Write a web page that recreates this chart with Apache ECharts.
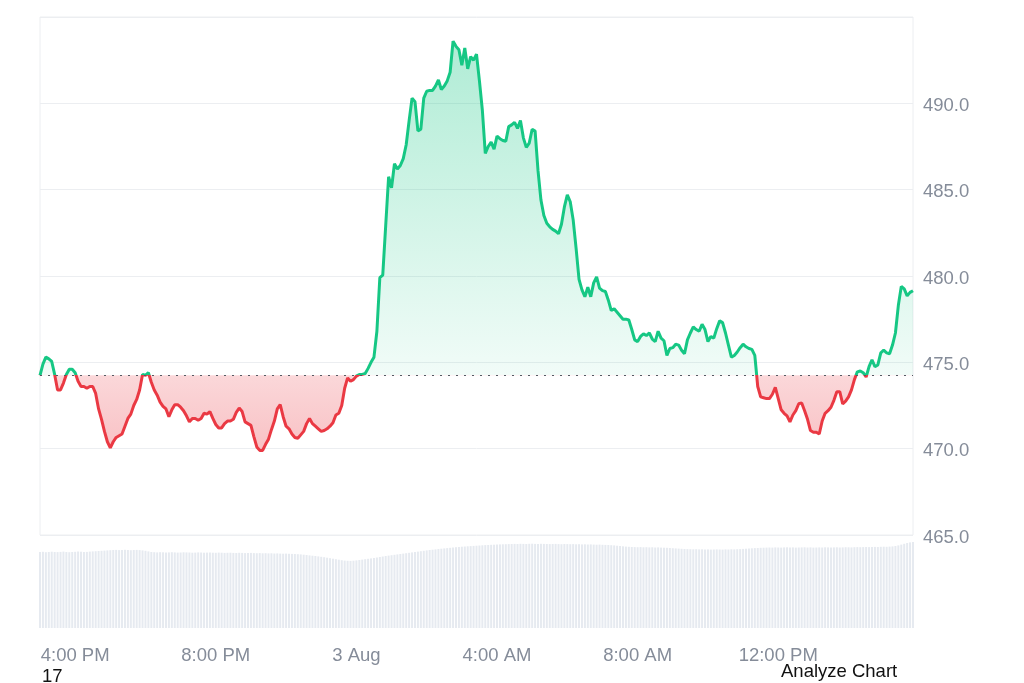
<!DOCTYPE html>
<html>
<head>
<meta charset="utf-8">
<script src="https://cdn.jsdelivr.net/npm/echarts@6/dist/echarts.min.js"></script>
<style>
html,body{margin:0;padding:0;background:#fff;}
#chart{width:1024px;height:683px;}
</style>
</head>
<body>
<div id="chart"></div>
<script>
// ---- Data ----
const baselinePrice = 474.25;

const prices = [
474.25,474.9,475.3,475.2,475.05,474.3,473.4,473.4,473.8,474.3,
474.6,474.6,474.4,473.9,473.6,473.6,473.5,473.6,473.6,473.2,
472.3,471.7,471.0,470.4,470.05,470.4,470.65,470.75,470.85,471.3,
471.75,472.0,472.5,472.85,473.4,474.3,474.25,474.4,473.85,473.4,
473.1,472.7,472.45,472.3,471.85,472.25,472.55,472.55,472.4,472.2,
471.9,471.55,471.75,471.75,471.65,471.75,472.05,472.0,472.15,471.75,
471.4,471.2,471.2,471.45,471.6,471.6,471.7,472.1,472.35,472.15,
471.55,471.45,471.35,470.7,470.1,469.9,469.9,470.25,470.55,471.1,
471.6,472.3,472.55,471.85,471.3,471.15,470.85,470.65,470.6,470.8,
471.0,471.45,471.75,471.45,471.3,471.15,471.0,471.05,471.15,471.3,
471.5,471.95,472.05,472.5,473.5,474.1,473.9,474.0,474.2,474.3,
474.3,474.35,474.65,475.0,475.3,476.8,479.9,480.05,482.9,485.75,
485.1,486.5,486.2,486.4,486.8,487.6,489.0,490.3,490.1,488.4,
488.5,490.3,490.7,490.75,490.75,491.0,491.35,490.8,491.0,491.3,
491.8,493.6,493.3,493.1,492.2,493.2,492.0,492.7,492.5,492.85,
491.3,489.6,487.1,487.5,487.75,487.35,488.1,487.95,487.85,487.8,
488.65,488.75,488.9,488.55,489.0,488.0,487.45,487.7,488.5,488.4,
486.1,484.4,483.5,483.05,482.85,482.7,482.6,482.45,483.0,484.0,
484.7,484.3,483.25,481.6,479.8,479.2,478.8,479.35,478.8,479.6,
479.95,479.3,479.15,479.1,478.6,478.0,478.1,477.9,477.7,477.5,
477.5,477.45,476.9,476.3,476.2,476.5,476.65,476.55,476.7,476.35,
476.2,476.8,476.4,476.25,475.4,475.8,475.85,476.05,476.0,475.7,
475.5,476.3,476.7,477.05,476.9,476.8,477.2,476.9,476.2,476.5,
476.4,476.95,477.4,477.3,476.7,476.0,475.3,475.4,475.6,475.85,
476.05,475.9,475.8,475.75,475.4,473.6,473.0,472.95,472.9,472.9,
473.15,473.55,472.9,472.25,472.05,471.9,471.55,471.95,472.2,472.6,
472.65,472.2,471.7,471.05,470.95,470.95,470.85,471.6,472.05,472.2,
472.4,472.8,473.3,473.3,472.6,472.75,473.0,473.4,474.0,474.45,
474.5,474.4,474.15,474.75,475.15,474.75,474.85,475.55,475.7,475.55,
475.5,476.0,476.7,478.3,479.4,479.25,478.85,479.05,479.15
];

const volumes = [
76,76.2,75.8,76,76.3,76,75.9,76.1,76.4,76,75.8,76,76.2,76.5,76.3,76,76.1,76.4,76.6,76.8,
77,77.2,77.4,77.6,77.8,78,78.1,77.9,78,78.2,78,77.8,78,78.1,77.9,77.6,77.2,76.6,76,75.8,
75.6,75.8,75.7,75.5,75.6,75.8,75.6,75.4,75.5,75.7,75.6,75.5,75.3,75.4,75.6,75.5,75.3,75.4,75.5,75.3,
75.2,75.4,75.3,75.1,75.2,75.3,75.1,75,75.2,75.1,74.9,75,75.1,74.9,74.8,74.9,74.7,74.8,74.6,74.7,
74.5,74.6,74.4,74.3,74.4,74.2,74.1,74,73.8,73.6,73.3,73,72.6,72.3,72,71.6,71.2,70.8,70.3,69.8,
69.3,68.8,68.3,67.8,67.4,67.2,67.1,67.3,67.6,68,68.4,68.8,69.2,69.6,70,70.5,71,71.5,72,72.4,
72.8,73.2,73.6,74,74.4,74.8,75.2,75.6,76,76.4,76.8,77.2,77.6,78,78.3,78.6,79,79.3,79.6,79.9,
80.2,80.5,80.8,81,81.3,81.5,81.7,81.9,82.1,82.3,82.5,82.7,82.9,83,83.2,83.3,83.5,83.6,83.7,83.8,
83.9,84,84.1,84,84.2,84.1,84,84.2,84.3,84.1,84,84.2,84.1,84,83.9,84,84.1,83.9,83.8,84,
83.9,83.8,83.9,83.7,83.8,83.6,83.7,83.5,83.6,83.4,83.3,83.4,83.2,83.1,83,82.8,82.6,82.3,82,81.7,
81.4,81.2,81,80.9,80.8,80.9,80.7,80.8,80.6,80.7,80.5,80.6,80.4,80.3,80.2,80,79.8,79.6,79.4,79.2,
79,78.9,78.8,78.7,78.8,78.6,78.7,78.5,78.6,78.4,78.5,78.6,78.5,78.4,78.6,78.5,78.7,78.6,78.8,78.9,
79.1,79.3,79.5,79.7,79.9,80,80.2,80.3,80.4,80.5,80.4,80.6,80.5,80.4,80.6,80.7,80.5,80.6,80.4,80.5,
80.6,80.7,80.5,80.6,80.4,80.5,80.6,80.5,80.7,80.6,80.5,80.6,80.7,80.5,80.6,80.8,80.7,80.6,80.8,80.9,
80.8,80.9,81,80.9,81,81.1,81,81.2,81.3,81.2,81.4,81.6,82,82.6,83.4,84.2,85,85.6,86
];

// time categories: 5-minute steps starting 2 Aug 15:00
const startDay = 2, startMinutes = 15 * 60, stepMinutes = 5;
const times = prices.map((_, i) => {
  const m = startMinutes + i * stepMinutes;
  const d = startDay + Math.floor(m / 1440);
  const mm = m % 1440;
  const hh = String(Math.floor(mm / 60)).padStart(2, '0');
  const mi = String(mm % 60).padStart(2, '0');
  return d + ' ' + hh + ':' + mi;
});

const tickTimes  = ['2 16:00', '2 20:00', '3 00:00', '3 04:00', '3 08:00', '3 12:00'];
const tickLabels = ['4:00 PM', '8:00 PM', '3 Aug', '4:00 AM', '8:00 AM', '12:00 PM'];

const priceTicksMin = 465, priceTicksMax = 495, priceInterval = 5;

// ---- Styles ----
const GREEN = '#16c784', RED = '#ea3943';
const FONT = '"Liberation Sans", Arial, Helvetica, sans-serif';
const AXIS_GREY = '#858c99';

const chart = echarts.init(document.getElementById('chart'), null, { renderer: 'canvas' });

const option = {
  animation: false,
  backgroundColor: '#ffffff',
  textStyle: { fontFamily: FONT },
  grid: [
    { left: 40, right: 111, top: 17, height: 518, show: true, borderColor: '#eceef1', borderWidth: 1, backgroundColor: 'transparent' },
    { left: 40, right: 111, top: 528, bottom: 55 }
  ],
  xAxis: [
    { type: 'category', gridIndex: 0, data: times, boundaryGap: false,
      axisLine: { show: false }, axisTick: { show: false }, axisLabel: { show: false }, splitLine: { show: false } },
    { type: 'category', gridIndex: 1, data: times, boundaryGap: false,
      axisLine: { show: false }, axisTick: { show: false }, splitLine: { show: false },
      axisLabel: {
        show: true,
        interval: (idx, val) => tickTimes.indexOf(val) >= 0,
        formatter: (val) => { const k = tickTimes.indexOf(val); return k >= 0 ? tickLabels[k] : ''; },
        color: AXIS_GREY, fontSize: 18.5, fontFamily: FONT, margin: 18
      } }
  ],
  yAxis: [
    { type: 'value', gridIndex: 0, position: 'right', min: priceTicksMin, max: priceTicksMax, interval: priceInterval,
      axisLine: { show: false }, axisTick: { show: false },
      splitLine: { show: true, lineStyle: { color: '#eceef1', width: 1 } },
      axisLabel: { color: AXIS_GREY, fontSize: 18.5, fontFamily: FONT, margin: 10,
        verticalAlign: 'top', lineHeight: 5,
        formatter: (v) => (v >= priceTicksMax ? '' : v.toFixed(1)) } },
    { type: 'value', gridIndex: 1, min: 0, max: 100, show: false }
  ],
  series: [
    {
      name: 'Price', type: 'line', xAxisIndex: 0, yAxisIndex: 0,
      data: prices, symbol: 'none', smooth: false,
      lineStyle: { width: 3, color: GREEN },
      areaStyle: { origin: baselinePrice, opacity: 1, color: 'rgba(22,199,132,0.2)' },
      emphasis: { disabled: true },
      markLine: {
        silent: true, symbol: 'none',
        label: { show: false },
        lineStyle: { type: [2, 6], color: '#555a63', width: 1 },
        data: [ { yAxis: baselinePrice } ]
      },
      z: 3
    },
    {
      name: 'Volume', type: 'bar', xAxisIndex: 1, yAxisIndex: 1,
      data: volumes, barWidth: '68%',
      itemStyle: { color: '#e6eaf0' },
      emphasis: { disabled: true },
      z: 1
    }
  ],
  graphic: [
    { type: 'text', x: 42, y: 677, style: { text: '17', font: '18.5px ' + FONT, fill: '#111', verticalAlign: 'middle', align: 'left' } },
    { type: 'text', x: 781, y: 672, style: { text: 'Analyze Chart', font: '18.5px ' + FONT, fill: '#111', verticalAlign: 'middle', align: 'left' } }
  ]
};

chart.setOption(option);

// colour split at the baseline: green above, red below (line and area)
const yTop = chart.convertToPixel({ yAxisIndex: 0 }, priceTicksMax);
const yBase = chart.convertToPixel({ yAxisIndex: 0 }, baselinePrice);
const yLow = chart.convertToPixel({ yAxisIndex: 0 }, 469.5);
const off = (yBase - yTop) / (yLow - yTop);
chart.setOption({
  series: [{
    lineStyle: {
      color: new echarts.graphic.LinearGradient(0, yTop, 0, yLow, [
        { offset: 0, color: GREEN },
        { offset: off, color: GREEN },
        { offset: off, color: RED },
        { offset: 1, color: RED }
      ], true)
    },
    areaStyle: {
      color: new echarts.graphic.LinearGradient(0, yTop, 0, yLow, [
        { offset: 0, color: 'rgba(22,199,132,0.36)' },
        { offset: off, color: 'rgba(22,199,132,0.06)' },
        { offset: off, color: 'rgba(234,57,67,0.2)' },
        { offset: 1, color: 'rgba(234,57,67,0.32)' }
      ], true)
    }
  }, {}]
});
</script>
</body>
</html>
